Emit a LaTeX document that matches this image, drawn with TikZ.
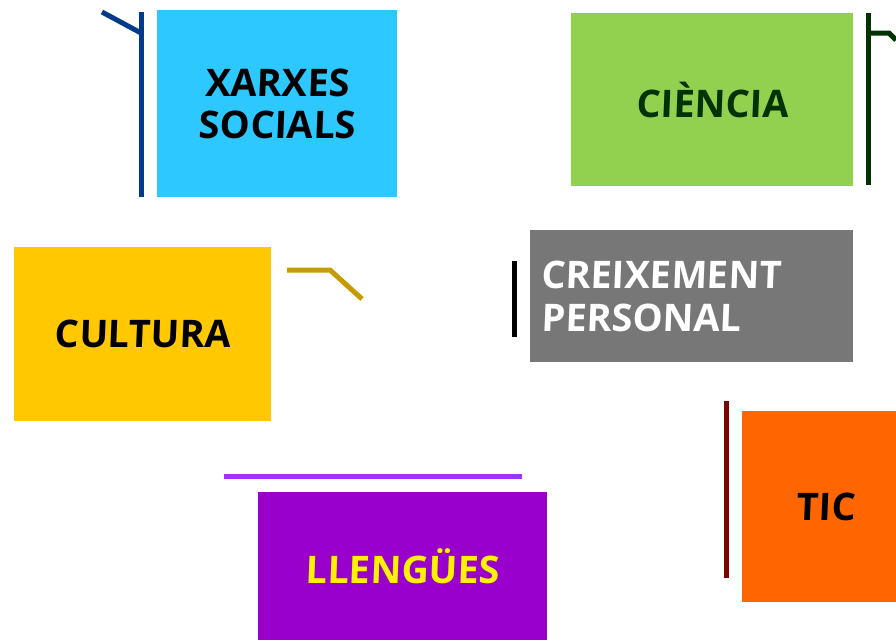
\documentclass[tikz,border=0pt]{standalone}
\usepackage{fontspec}
\setmainfont{Open Sans}[FakeSlant=0.04]
\usepackage{tikz}

\definecolor{blauxarxa}{RGB}{44,200,255}
\definecolor{blaufosc}{RGB}{0,58,140}
\definecolor{verdcien}{RGB}{146,208,80}
\definecolor{verdfosc}{RGB}{0,51,0}
\definecolor{grogcult}{RGB}{255,200,0}
\definecolor{oraline}{RGB}{196,156,0}
\definecolor{griscreix}{RGB}{119,119,119}
\definecolor{taronja}{RGB}{255,102,0}
\definecolor{granat}{RGB}{128,0,0}
\definecolor{liladeep}{RGB}{153,0,204}
\definecolor{lilaline}{RGB}{160,50,255}

\tikzset{
  caixa/.style={anchor=north west, inner sep=0pt, align=center,
    font=\fontsize{28.5}{32}\selectfont\bfseries},
  ratlla/.style={line width=3.75pt}
}

\begin{document}
\begin{tikzpicture}[x=0.75pt,y=-0.75pt]
    \useasboundingbox (0,0) rectangle (896,640);
    % Caixes
    \node[caixa, fill=blauxarxa, minimum width=180pt, minimum height=140.25pt] (xarxes) at (157,10) {XARXES\\SOCIALS};
    \node[caixa, fill=verdcien, text=verdfosc, minimum width=211.5pt, minimum height=129.75pt] (ciencia) at (571,13) {CIÈNCIA};
    \node[caixa, fill=grogcult, minimum width=192.75pt, minimum height=130.5pt] (cultura) at (14,247) {CULTURA};
    \node[caixa, fill=griscreix, text=white, align=left, text width=225.75pt, inner xsep=8.25pt, minimum height=99pt] (creix) at (530,230) {CREIXEMENT\\PERSONAL};
    \node[caixa, fill=taronja, minimum width=115.5pt, minimum height=143.25pt] (tic) at (742,411) {\hspace*{10pt}TIC};
    \node[caixa, fill=liladeep, text=yellow, minimum width=216.75pt, minimum height=111pt] (llengues) at (258,492) {LLENGÜES};
    % Ratlles
    \draw[ratlla, blaufosc] (141,12) -- (141,197);
    \draw[ratlla, blaufosc] (102,12) -- (141,33);
    \draw[ratlla, verdfosc] (868,13) -- (868,185);
    \draw[ratlla, verdfosc] (868,33) -- (889,33) -- (896,40);
    \draw[ratlla, oraline] (287,270) -- (330,270) -- (362,299);
    \draw[ratlla, black] (514,261) -- (514,337);
    \draw[ratlla, granat] (726,401) -- (726,578);
    \draw[ratlla, lilaline] (224,476) -- (522,476);
\end{tikzpicture}
\end{document}
